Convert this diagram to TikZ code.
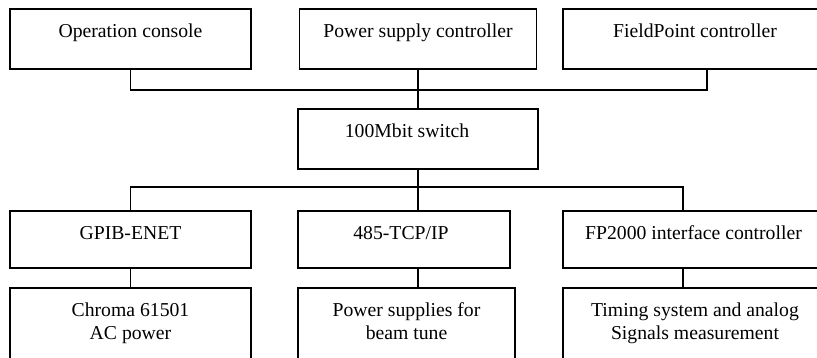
\documentclass[tikz,border=0pt]{standalone}
\usepackage{fontspec}
\setmainfont{Liberation Serif}
\begin{document}
\begin{tikzpicture}[x=1pt,y=-1pt,
  box/.style={draw,line width=1.8pt,rectangle,inner sep=0pt,minimum height=#1},
  box/.default=60pt,
  txt/.style={anchor=base,inner sep=0pt,font=\fontsize{19.7}{23.5}\selectfont},
  wire/.style={line width=1.8pt}]
\useasboundingbox (0,0) rectangle (817,358);
\clip (0,0) rectangle (817,358);
% top row
\node[box,minimum width=241pt] (op) at (130.5,39) {};
\node[box,minimum width=237pt] (ps) at (418,39) {};
\node[box,minimum width=264pt] (fp) at (695,39) {};
\node[txt] (opt) at ([yshift=-29pt]op.north) {Operation console};
\node[txt] (pst) at ([yshift=-29pt]ps.north) {Power supply controller};
\node[txt] (fpt) at ([yshift=-29pt]fp.north) {FieldPoint controller};
% switch
\node[box,minimum width=240pt] (sw) at (418,139) {};
\node[txt] (swt) at ([xshift=-11pt,yshift=-29pt]sw.north) {100Mbit switch};
% second row
\node[box=57pt,minimum width=241pt] (ga) at (130.5,239.5) {};
\node[box=57pt,minimum width=212pt] (tc) at (404,239.5) {};
\node[box=57pt,minimum width=264pt] (fi) at (695,239.5) {};
\node[txt] (gat) at ([yshift=-29pt]ga.north) {GPIB-ENET};
\node[txt] (tct) at ([xshift=-3pt,yshift=-29pt]tc.north) {485-TCP/IP};
\node[txt] (fit) at ([xshift=-1.5pt,yshift=-29pt]fi.north) {FP2000 interface controller};
% third row
\node[box=90pt,minimum width=241pt] (ch) at (130.5,333) {};
\node[box=90pt,minimum width=217pt] (pw) at (406.5,333) {};
\node[box=90pt,minimum width=264pt] (tm) at (695,333) {};
\node[txt] (cht1) at ([yshift=-29pt]ch.north) {Chroma 61501};
\node[txt] (cht2) at ([yshift=-52.5pt]ch.north) {AC power};
\node[txt] (pwt1) at ([yshift=-29pt]pw.north) {Power supplies for};
\node[txt] (pwt2) at ([yshift=-52.5pt]pw.north) {beam tune};
\node[txt] (tmt1) at ([yshift=-29pt]tm.north) {Timing system and analog};
\node[txt] (tmt2) at ([yshift=-52.5pt]tm.north) {Signals measurement};
% connectors
\draw[wire] (op.south) -- ++(0,20) -| ([xshift=12pt]fp.south);
\draw[wire] (ps.south) -- (sw.north);
\draw[wire] (sw.south) -- ([xshift=14pt]tc.north);
\draw[wire] (ga.north) -- ++(0,-23) -| ([xshift=-12pt]fi.north);
\draw[wire] (ga.south) -- (ch.north);
\draw[wire] ([xshift=14pt]tc.south) -- ([xshift=11.5pt]pw.north);
\draw[wire] ([xshift=-12pt]fi.south) -- ([xshift=-12pt]tm.north);
\end{tikzpicture}
\end{document}
